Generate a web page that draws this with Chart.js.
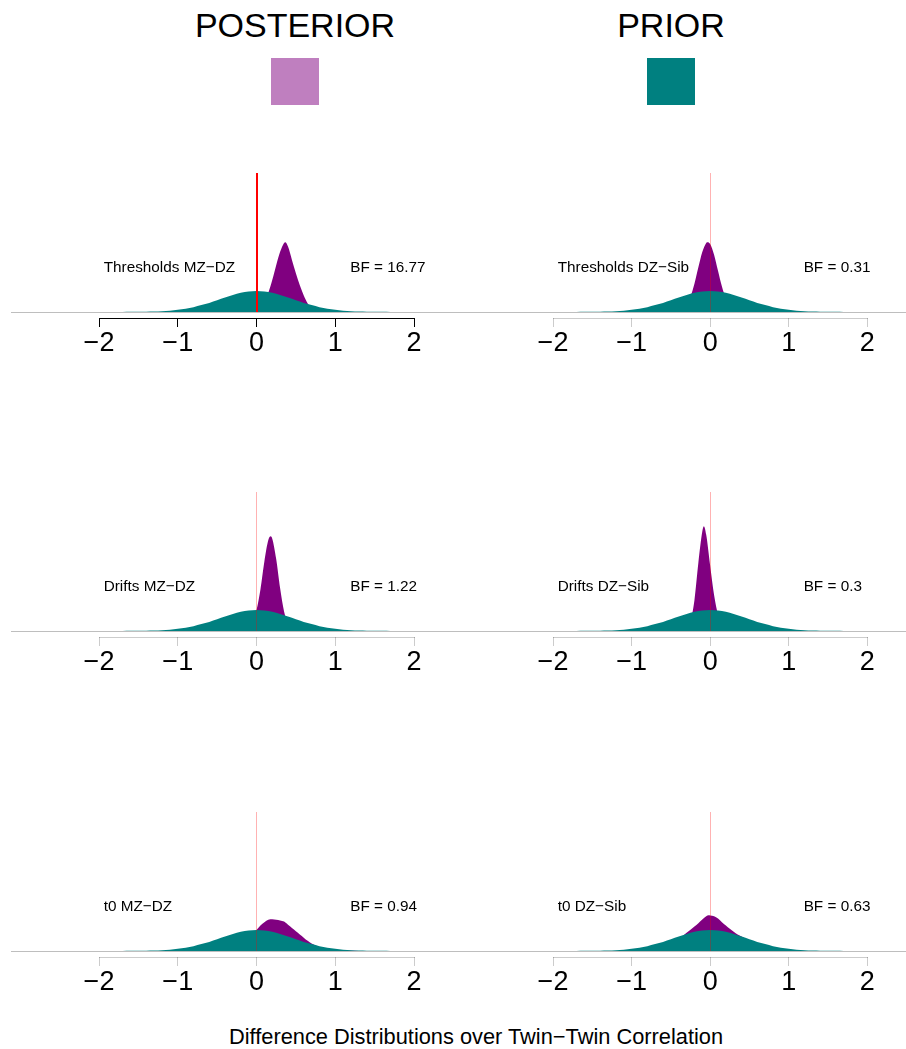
<!DOCTYPE html>
<html>
<head>
<meta charset="utf-8">
<script src="https://cdn.jsdelivr.net/npm/chart.js@4/dist/chart.umd.min.js"></script>
<style>
  html, body { margin: 0; padding: 0; background: #fff; }
  #page { position: relative; width: 906px; height: 1049px; overflow: hidden;
          font-family: 'Liberation Sans', Arial, sans-serif; color: #000; }
  .panel { position: absolute; }
  .head { position: absolute; font-size: 34px; line-height: 34px; white-space: nowrap;
          transform: translateX(-50%); }
  .swatch { position: absolute; width: 48px; height: 47px; }
  #caption { position: absolute; left: 476px; top: 1026px; font-size: 21.8px; line-height: 21.8px;
             white-space: nowrap; transform: translateX(-50%); }
</style>
</head>
<body>
<div id="page">
  <div id="caption">Difference Distributions over Twin−Twin Correlation</div>
</div>
<script>
// ---- data ---------------------------------------------------------------
const SERIES_NAMES = ['POSTERIOR', 'PRIOR'];
const TICKS = [-2, -1, 0, 1, 2];

const PANEL_NAMES = ['Thresholds MZ−DZ', 'Thresholds DZ−Sib',
                     'Drifts MZ−DZ', 'Drifts DZ−Sib',
                     't0 MZ−DZ', 't0 DZ−Sib'];
const BAYES_FACTORS = [16.77, 0.31, 1.22, 0.3, 0.94, 0.63];

// prior density of a correlation difference (same in every panel)
const PRIOR_X = [-2, -1.9, -1.8, -1.7, -1.6, -1.5, -1.4, -1.3, -1.2, -1.1, -1, -0.9, -0.8, -0.7, -0.6,
                 -0.5, -0.4, -0.3, -0.2, -0.1, 0, 0.1, 0.2, 0.3, 0.4, 0.5, 0.6, 0.7, 0.8, 0.9, 1,
                 1.1, 1.2, 1.3, 1.4, 1.5, 1.6, 1.7, 1.8, 1.9, 2];
const PRIOR_Y = [0, 0.001, 0.002, 0.003, 0.005, 0.008, 0.012, 0.02, 0.03, 0.05, 0.08, 0.12, 0.18, 0.26, 0.34,
                 0.44, 0.54, 0.64, 0.72, 0.77, 0.79, 0.77, 0.72, 0.64, 0.54, 0.44, 0.34, 0.26, 0.18, 0.12, 0.08,
                 0.05, 0.03, 0.02, 0.012, 0.008, 0.005, 0.003, 0.002, 0.001, 0];

// posterior densities
const THRESH_MZDZ_X = [-0.05, 0, 0.05, 0.1, 0.15, 0.2, 0.25, 0.3, 0.35, 0.365, 0.4, 0.45, 0.5, 0.55, 0.6, 0.65, 0.7, 0.75, 0.8, 0.85];
const THRESH_MZDZ_Y = [0, 0.03, 0.12, 0.35, 0.72, 1.2, 1.75, 2.25, 2.58, 2.61, 2.45, 1.95, 1.45, 1.0, 0.62, 0.32, 0.14, 0.05, 0.01, 0];

const THRESH_DZSIB_X = [-0.45, -0.4, -0.35, -0.3, -0.25, -0.2, -0.15, -0.1, -0.05, -0.03, 0, 0.05, 0.1, 0.15, 0.2, 0.25, 0.3, 0.35, 0.4];
const THRESH_DZSIB_Y = [0.01, 0.04, 0.11, 0.27, 0.58, 1.06, 1.67, 2.24, 2.58, 2.61, 2.54, 2.14, 1.54, 0.95, 0.5, 0.23, 0.09, 0.03, 0.01];

const DRIFT_MZDZ_X = [-0.2, -0.15, -0.1, -0.05, 0, 0.05, 0.1, 0.15, 0.18, 0.2, 0.25, 0.3, 0.35, 0.4, 0.45, 0.5, 0.55];
const DRIFT_MZDZ_Y = [0, 0.01, 0.07, 0.3, 0.78, 1.55, 2.6, 3.4, 3.54, 3.45, 2.69, 1.6, 0.73, 0.26, 0.07, 0.02, 0];

const DRIFT_DZSIB_X = [-0.35, -0.3, -0.25, -0.2, -0.15, -0.1, -0.08, -0.05, 0, 0.05, 0.1, 0.15, 0.2, 0.25, 0.3];
const DRIFT_DZSIB_Y = [0.01, 0.06, 0.35, 1.15, 2.55, 3.72, 3.92, 3.6, 2.45, 1.35, 0.62, 0.22, 0.06, 0.01, 0];

const T0_MZDZ_X = [-0.7, -0.6, -0.5, -0.4, -0.3, -0.2, -0.1, 0, 0.05, 0.1, 0.15, 0.2, 0.25, 0.3, 0.35, 0.4, 0.45,
                   0.5, 0.55, 0.6, 0.65, 0.7, 0.75, 0.8, 0.85, 0.9, 1, 1.1, 1.2, 1.3];
const T0_MZDZ_Y = [0, 0.01, 0.03, 0.08, 0.17, 0.32, 0.52, 0.79, 0.95, 1.08, 1.17, 1.19, 1.17, 1.14, 1.1, 0.98, 0.86,
                   0.74, 0.62, 0.5, 0.38, 0.28, 0.21, 0.15, 0.1, 0.06, 0.03, 0.015, 0.007, 0];

const T0_DZSIB_X = [-0.9, -0.8, -0.7, -0.6, -0.5, -0.4, -0.3, -0.2, -0.15, -0.1, -0.05, -0.02, 0, 0.05, 0.1, 0.15,
                    0.2, 0.25, 0.3, 0.35, 0.4, 0.45, 0.5, 0.6, 0.7, 0.8, 0.9, 1, 1.1];
const T0_DZSIB_Y = [0.02, 0.05, 0.1, 0.17, 0.28, 0.45, 0.68, 0.92, 1.04, 1.18, 1.3, 1.34, 1.33, 1.3, 1.22, 1.08,
                    0.95, 0.83, 0.72, 0.62, 0.54, 0.46, 0.38, 0.25, 0.15, 0.08, 0.04, 0.02, 0];

const POSTERIOR_X = [THRESH_MZDZ_X, THRESH_DZSIB_X, DRIFT_MZDZ_X, DRIFT_DZSIB_X, T0_MZDZ_X, T0_DZSIB_X];
const POSTERIOR_Y = [THRESH_MZDZ_Y, THRESH_DZSIB_Y, DRIFT_MZDZ_Y, DRIFT_DZSIB_Y, T0_MZDZ_Y, T0_DZSIB_Y];

// ---- styles & layout ----------------------------------------------------
const POST_COLOR = '#800080';
const PRIOR_COLOR = '#008080';
const FONT = "'Liberation Sans', Arial, sans-serif";

const COLS = [
  { left: 0,   width: 453, areaLeft: 11, pxMinus2: 99,  pxPlus2: 414 },
  { left: 453, width: 453, areaLeft: 0,  pxMinus2: 100, pxPlus2: 414.3 }
];
const ROW_TOPS = [173, 492, 812];   // top of each row's plotting region
const PAD_TOP = 4, AREA_H = 145, AXIS_H = 40, GAP = 6;
const Y_MAX = 5.2;
const Y_MIN = -Y_MAX * GAP / (AREA_H - GAP);

const page = document.getElementById('page');

// header: series names with colour swatches
const headX = [295, 671];
const swatchColors = ['rgba(128,0,128,0.5)', PRIOR_COLOR];
SERIES_NAMES.forEach((name, i) => {
  const h = document.createElement('div');
  h.className = 'head';
  h.style.left = headX[i] + 'px';
  h.style.top = '8px';
  h.textContent = name;
  page.appendChild(h);
  const s = document.createElement('div');
  s.className = 'swatch';
  s.style.left = (headX[i] - 24) + 'px';
  s.style.top = '58px';
  s.style.background = swatchColors[i];
  page.appendChild(s);
});

const toPoints = (xs, ys) => xs.map((x, i) => ({ x, y: ys[i] }));
const fmtTick = v => (v < 0 ? '\u2212' + Math.abs(v) : String(v));

const panelDecor = {
  id: 'panelDecor',
  beforeDatasetsDraw(chart) {
    const { ctx, chartArea: a, scales: { y } } = chart;
    const y0 = Math.round(y.getPixelForValue(0)) + 0.5;
    ctx.save();
    ctx.strokeStyle = '#BEBEBE';
    ctx.lineWidth = 1;
    ctx.beginPath();
    ctx.moveTo(a.left, y0);
    ctx.lineTo(a.right, y0);
    ctx.stroke();
    ctx.restore();
  },
  afterDatasetsDraw(chart, args, opts) {
    const { ctx, chartArea: a, scales: { x, y } } = chart;
    ctx.save();
    // reference line at zero difference
    const xz = opts.zeroWidth === 2 ? Math.round(x.getPixelForValue(0))
                                    : Math.floor(x.getPixelForValue(0)) + 0.5;
    ctx.strokeStyle = opts.zeroColor;
    ctx.lineWidth = opts.zeroWidth;
    ctx.beginPath();
    ctx.moveTo(xz, y.getPixelForValue(0));
    ctx.lineTo(xz, y.getPixelForValue(Y_MAX));
    ctx.stroke();
    // axis line spanning the tick range only
    const yb = Math.round(a.bottom) + 0.5;
    ctx.strokeStyle = opts.axisColor;
    ctx.lineWidth = 1;
    ctx.beginPath();
    ctx.moveTo(Math.round(x.getPixelForValue(TICKS[0])), yb);
    ctx.lineTo(Math.round(x.getPixelForValue(TICKS[TICKS.length - 1])) + 1, yb);
    ctx.stroke();
    // panel labels
    ctx.fillStyle = '#000';
    ctx.font = '15.3px ' + FONT;
    ctx.textAlign = 'left';
    ctx.textBaseline = 'middle';
    const ly = y.getPixelForValue(1.67);
    ctx.fillText(opts.name, x.getPixelForValue(-1.94), ly);
    ctx.fillText('BF = ' + opts.bf, x.getPixelForValue(1.19), ly);
    ctx.restore();
  }
};

PANEL_NAMES.forEach((name, i) => {
  const col = COLS[i % 2];
  const rowTop = ROW_TOPS[Math.floor(i / 2)];
  const bf = BAYES_FACTORS[i];
  const strong = bf > 3;

  const unit = (col.pxPlus2 - col.pxMinus2) / 4;
  const xMin = -2 - (col.pxMinus2 - col.areaLeft) / unit;
  const xMax = 2 + (col.width - col.pxPlus2) / unit;

  const holder = document.createElement('div');
  holder.className = 'panel';
  const H = PAD_TOP + AREA_H + AXIS_H;
  holder.style.left = col.left + 'px';
  holder.style.top = (rowTop - PAD_TOP) + 'px';
  holder.style.width = col.width + 'px';
  holder.style.height = H + 'px';
  const canvas = document.createElement('canvas');
  holder.appendChild(canvas);
  page.appendChild(holder);

  const axisColor = strong ? '#000000' : 'rgba(0,0,0,0.2)';

  new Chart(canvas, {
    type: 'line',
    data: {
      datasets: [
        { label: SERIES_NAMES[1], data: toPoints(PRIOR_X, PRIOR_Y), order: 0,
          backgroundColor: PRIOR_COLOR, borderColor: PRIOR_COLOR, borderWidth: 0,
          fill: 'origin', pointRadius: 0, cubicInterpolationMode: 'monotone' },
        { label: SERIES_NAMES[0], data: toPoints(POSTERIOR_X[i], POSTERIOR_Y[i]), order: 1,
          backgroundColor: POST_COLOR, borderColor: POST_COLOR, borderWidth: 0,
          fill: 'origin', pointRadius: 0, cubicInterpolationMode: 'monotone' }
      ]
    },
    options: {
      responsive: true,
      maintainAspectRatio: false,
      animation: false,
      events: [],
      layout: { padding: { left: col.areaLeft, right: 0, top: PAD_TOP, bottom: 0 } },
      plugins: {
        legend: { display: false },
        tooltip: { enabled: false },
        panelDecor: { name, bf, zeroColor: strong ? '#FF0000' : 'rgba(255,0,0,0.3)',
                      zeroWidth: strong ? 2 : 1, axisColor }
      },
      scales: {
        x: {
          type: 'linear', min: xMin, max: xMax,
          afterBuildTicks: axis => { axis.ticks = TICKS.map(v => ({ value: v })); },
          afterFit: axis => { axis.height = AXIS_H; },
          border: { display: false },
          grid: { display: true, drawOnChartArea: false, drawTicks: true, tickLength: 9,
                  color: axisColor, lineWidth: 1 },
          ticks: { autoSkip: false, maxRotation: 0, padding: 0, color: '#000',
                   font: { family: FONT, size: 27 }, callback: v => fmtTick(v) }
        },
        y: { display: false, min: Y_MIN, max: Y_MAX }
      }
    },
    plugins: [panelDecor]
  });
});
</script>
</body>
</html>
